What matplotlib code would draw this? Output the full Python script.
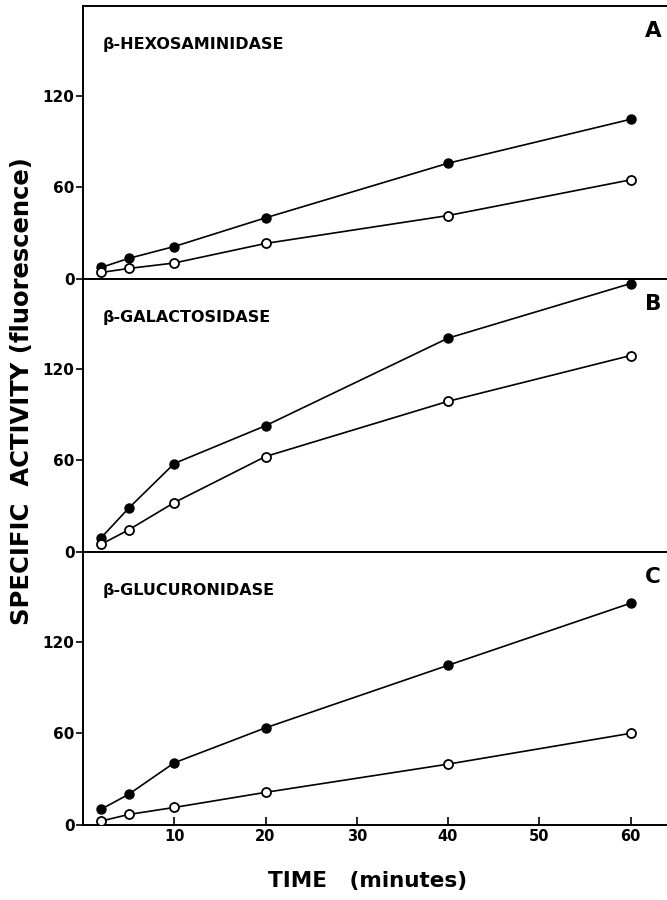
import matplotlib
matplotlib.use("Agg")
import matplotlib.pyplot as plt

plt.rcParams['font.family'] = ['DejaVu Sans']

time_min = [2, 5, 10, 20, 40, 60]

hex_filled = [7.6, 13.5, 21.3, 40.1, 75.9, 104.7]
hex_open = [4.3, 6.9, 10.5, 23.3, 41.6, 65.0]

gal_filled = [9.4, 28.7, 58.0, 82.8, 140.2, 176.0]
gal_open = [5.1, 14.5, 32.4, 62.6, 98.8, 128.8]

glu_filled = [10.4, 20.1, 40.8, 63.7, 104.7, 145.4]
glu_open = [2.6, 6.9, 11.5, 21.4, 39.9, 60.1]

panel_names = ["β-HEXOSAMINIDASE", "β-GALACTOSIDASE", "β-GLUCURONIDASE"]
panel_letters = ["A", "B", "C"]
y_ticks = [0, 60, 120]
x_ticks = [10, 20, 30, 40, 50, 60]

filled_series = [hex_filled, gal_filled, glu_filled]
open_series = [hex_open, gal_open, glu_open]

fig = plt.figure(figsize=(6.67, 9.0), dpi=100)
left, right = 83 / 667, 1.0
bottom, top = 75 / 900, 894 / 900
h = (top - bottom) / 3

axes = []
for i in range(3):
    ax = fig.add_axes([left, top - (i + 1) * h, right - left, h])
    axes.append(ax)
    ax.plot(time_min, filled_series[i], '-', color='black', lw=1.2,
            marker='o', ms=6.5, mfc='black', mec='black', zorder=3)
    ax.plot(time_min, open_series[i], '-', color='black', lw=1.2,
            marker='o', ms=6.5, mfc='white', mec='black', mew=1.3, zorder=3)
    ax.set_xlim(0, 64)
    ax.set_ylim(0, 179)
    ax.set_yticks(y_ticks)
    ax.set_yticklabels([str(v) for v in y_ticks], fontsize=11, fontweight='bold')
    ax.tick_params(axis='y', direction='out', length=5, width=1.2, pad=1)
    ax.spines['right'].set_visible(False)
    for s in ['left', 'top', 'bottom']:
        ax.spines[s].set_linewidth(1.4)
    ax.text(0.034, 0.86, panel_names[i], transform=ax.transAxes,
            fontsize=11.5, fontweight='bold', ha='left', va='center')
    ax.text(0.976, 0.91, panel_letters[i], transform=ax.transAxes,
            fontsize=15.5, fontweight='bold', ha='center', va='center')
    if i < 2:
        ax.set_xticks([])
    else:
        ax.set_xticks(x_ticks)
        ax.set_xticklabels([str(v) for v in x_ticks], fontsize=10.5, fontweight='bold')
        ax.tick_params(axis='x', direction='in', length=6, width=1.2, pad=3)

fig.text(0.033, 0.566, "SPECIFIC  ACTIVITY (fluorescence)", rotation=90,
         fontsize=17.5, fontweight='bold', ha='center', va='center')
fig.text(0.551, 0.021, "TIME   (minutes)", fontsize=15.5, fontweight='bold',
         ha='center', va='center')

fig.savefig("out.png", dpi=100)
